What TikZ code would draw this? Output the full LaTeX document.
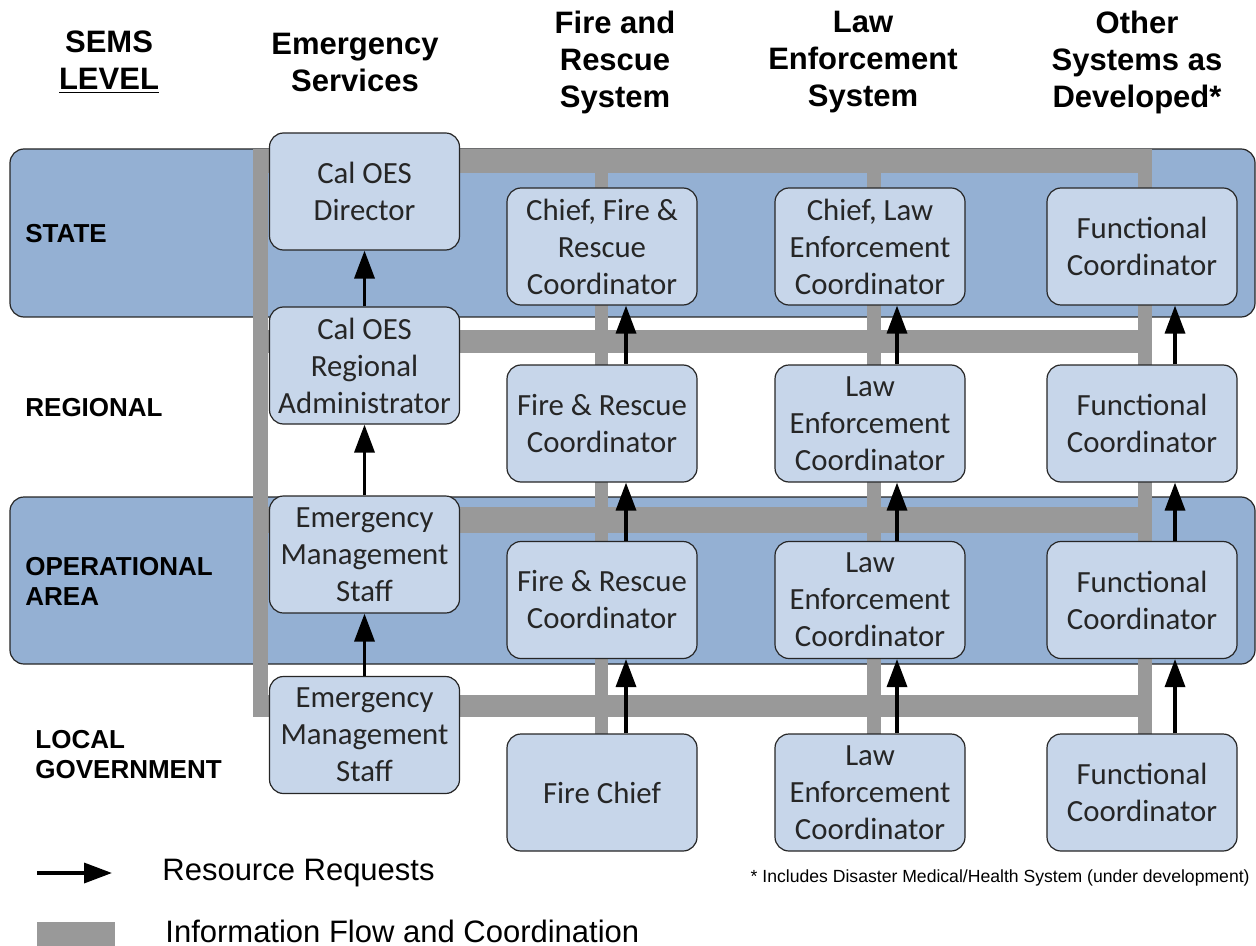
\documentclass[tikz,border=0pt]{standalone}
\usepackage{fontspec}
\setmainfont{Liberation Sans}
\newfontfamily\boxfont{Carlito}
\usetikzlibrary{arrows.meta,calc}
\definecolor{bandblue}{RGB}{148,176,211}
\definecolor{boxblue}{RGB}{199,214,234}
\definecolor{infogray}{RGB}{153,153,153}
\tikzset{
  band/.style={draw=black!85,line width=0.6pt,fill=bandblue,rounded corners=7pt,
    minimum width=622.5pt,minimum height=84pt,inner sep=0pt},
  org/.style={draw=black!85,line width=0.6pt,fill=boxblue,rounded corners=7pt,
    minimum width=95pt,minimum height=58.5pt,inner sep=0pt,align=center,
    text=black!85,font=\boxfont\fontsize{15.4}{18.5}\selectfont},
  head/.style={align=center,font=\bfseries\fontsize{15.5}{18.5}\selectfont},
  lvl/.style={anchor=west,align=left,inner sep=0pt,font=\bfseries\fontsize{13}{15}\selectfont},
  keytext/.style={anchor=west,inner sep=0pt,font=\fontsize{15.5}{18}\selectfont},
  info/.style={draw=infogray},
}

\begin{document}
\begin{tikzpicture}[x=0.5pt,y=-0.5pt]
\useasboundingbox (0,0) rectangle (1256,946);
% column heads
\node[head] (sems) at (109,62) {SEMS\\\underline{LEVEL}};
\node[head] (hes) at (355,62) {Emergency\\Services};
\node[head] (hfr) at (615,62) {Fire and\\Rescue\\System};
\node[head] (hle) at (863,62) {Law\\Enforcement\\System};
\node[head] (hot) at (1137,62) {Other\\Systems as\\Developed*};
% level bands
\node[band] (state) at (632.5,233) {};
\node[band,minimum height=83.5pt] (oparea) at (632.5,580.5) {};
\node[lvl] (lstate) at (25,234) {STATE};
\node[lvl] (lreg) at (25,408) {REGIONAL};
\node[lvl] (lop) at (25,581) {OPERATIONAL\\AREA};
\node[lvl] (lloc) at (35,755) {LOCAL\\GOVERNMENT};
% information flow grid
\coordinate (gtl) at (253,161);
\coordinate (gtr) at (1152,161);
\coordinate (glt) at (260.5,149);
\coordinate (glb) at (260.5,717);
\coordinate (grl) at (268,341.5);
\coordinate (grr) at (1152,341.5);
\coordinate (gol) at (268,520);
\coordinate (gor) at (1152,520);
\coordinate (gbl) at (253,706);
\coordinate (gbr) at (1152,706);
\coordinate (gft) at (601.5,149);
\coordinate (gfb) at (601.5,740);
\coordinate (gwt) at (874,149);
\coordinate (gwb) at (874,740);
\coordinate (got) at (1145,149);
\coordinate (gob) at (1145,740);
\draw[info,line width=12pt] (gtl) -- (gtr);
\draw[info,line width=7.5pt] (glt) -- (glb);
\draw[info,line width=11.5pt] (grl) -- (grr);
\draw[info,line width=13pt] (gol) -- (gor);
\draw[info,line width=11pt] (gbl) -- (gbr);
\draw[info,line width=6.5pt] (gft) -- (gfb);
\draw[info,line width=7pt] (gwt) -- (gwb);
\draw[info,line width=7pt] (got) -- (gob);
% emergency services
\node[org] (dir) at (364.5,191.5) {Cal OES\\Director};
\node[org] (rad) at (364.5,365.5) {Cal OES\\Regional\\Administrator};
\node[org] (ems1) at (364.5,554.5) {Emergency\\Management\\Staff};
\node[org] (ems2) at (364.5,735) {Emergency\\Management\\Staff};
% fire and rescue
\node[org] (fr1) at (602,246.5) {Chief, Fire \&\\Rescue\\Coordinator};
\node[org] (fr2) at (602,423.5) {Fire \& Rescue\\Coordinator};
\node[org] (fr3) at (602,600) {Fire \& Rescue\\Coordinator};
\node[org] (fr4) at (602,792.5) {Fire Chief};
% law enforcement
\node[org] (le1) at (870,246.5) {Chief, Law\\Enforcement\\Coordinator};
\node[org] (le2) at (870,423.5) {Law\\Enforcement\\Coordinator};
\node[org] (le3) at (870,600) {Law\\Enforcement\\Coordinator};
\node[org] (le4) at (870,792.5) {Law\\Enforcement\\Coordinator};
% other systems
\node[org] (fc1) at (1142,246.5) {Functional\\Coordinator};
\node[org] (fc2) at (1142,423.5) {Functional\\Coordinator};
\node[org] (fc3) at (1142,600) {Functional\\Coordinator};
\node[org] (fc4) at (1142,792.5) {Functional\\Coordinator};
% resource requests
\path[-{Triangle[length=14pt,width=10pt]},line width=1.75pt]
(rad) edge (dir)
(ems1) edge (rad)
(ems2) edge (ems1)
([xshift=12pt]fr2.north) edge ([xshift=12pt]fr1.south)
([xshift=12pt]fr3.north) edge ([xshift=12pt]fr2.south)
([xshift=12pt]fr4.north) edge ([xshift=12pt]fr3.south)
([xshift=13.5pt]le2.north) edge ([xshift=13.5pt]le1.south)
([xshift=13.5pt]le3.north) edge ([xshift=13.5pt]le2.south)
([xshift=13.5pt]le4.north) edge ([xshift=13.5pt]le3.south)
([xshift=16.5pt]fc2.north) edge ([xshift=16.5pt]fc1.south)
([xshift=16.5pt]fc3.north) edge ([xshift=16.5pt]fc2.south)
([xshift=16.5pt]fc4.north) edge ([xshift=16.5pt]fc3.south)
;
% legend
\coordinate (ka) at (37,873);
\coordinate (kb) at (112,873);
\draw[-{Triangle[length=14pt,width=10pt]},line width=1.75pt] (ka) -- (kb);
\node[keytext] (krr) at (162,873) {Resource Requests};
\node[fill=infogray,minimum width=39pt,minimum height=12pt,inner sep=0pt] (kgray) at (76,934) {};
\node[keytext] (kifc) at (165,931) {Information Flow and Coordination};
\node[anchor=east,inner sep=0pt,font=\fontsize{8.8}{11}\selectfont] (note) at (1250,878) {* Includes Disaster Medical/Health System (under development)};
\end{tikzpicture}
\end{document}
